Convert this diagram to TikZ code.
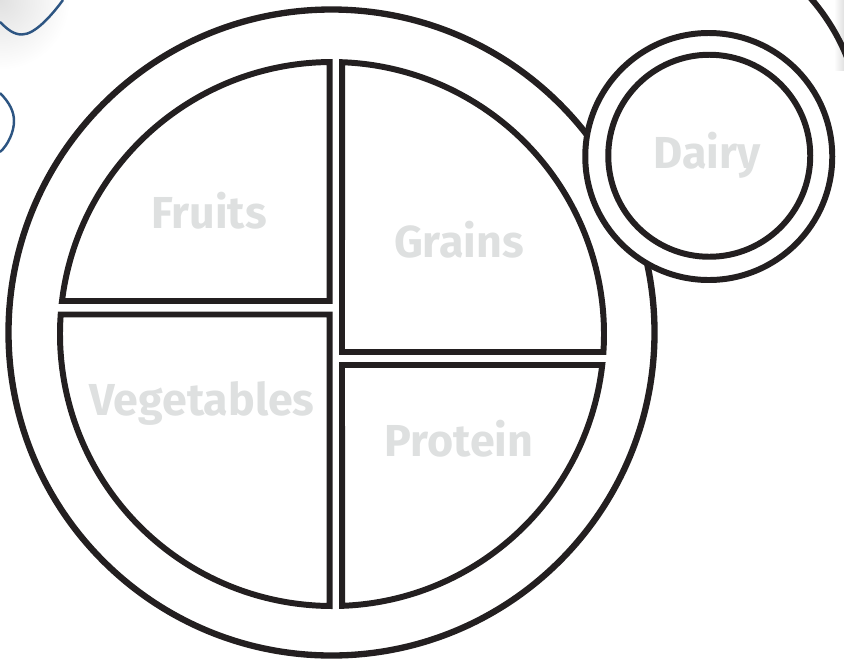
\documentclass[tikz,border=0pt]{standalone}
\usepackage{fontspec}
\setmainfont{Fira Sans}
\usepackage{tikz}
\usetikzlibrary{positioning}
\definecolor{plateline}{RGB}{35,31,32}
\definecolor{labelgray}{RGB}{222,224,224}
\definecolor{tableblue}{RGB}{45,85,130}

\begin{document}
\begin{tikzpicture}[x=0.02cm,y=-0.02cm,line width=3.4pt,
	food/.style={font=\fontsize{25.5}{30}\selectfont\bfseries,text=labelgray,anchor=base,inner sep=0pt}]
			\useasboundingbox (0,0) rectangle (844,660);
			\clip (0,0) rectangle (844,660);
			% soft shadows in the corners
			\shade[inner color=black!12,outer color=white] (0,0) circle[radius=70];
			\shade[left color=white,right color=black!12] (834,0) rectangle (844,70);
			% table pattern, top left
			\draw[tableblue,line width=1.4pt] (0,22) .. controls (8,30) and (14,34.5) .. (22,34.5) .. controls (35,34.5) and (52,15) .. (63,0);
			\draw[tableblue,line width=1.4pt] (0,93) .. controls (10,103) and (14,112) .. (14,121) .. controls (14,132) and (8,145) .. (0,152);
			% edge of the next plate, top right
			\draw[plateline] (654,135) ++(-44:208) arc[start angle=-44,end angle=-12,radius=208];
			% plate rim
			\draw[plateline,line width=3.6pt] (331.5,332.5) circle[radius=323];
			% four sections of the plate
			\draw[plateline] (62.01,301) arc[start angle=186.97,end angle=269.52,radius=272] -- (329.7,301) -- cycle;
			\draw[plateline] (60.70,314.5) arc[start angle=184.11,end angle=90.485,radius=272] -- (329.7,314.5) -- cycle;
			\draw[plateline] (603.40,352) arc[start angle=3.79,end angle=-87.89,radius=272] -- (342,352) -- cycle;
			\draw[plateline] (602.23,365) arc[start angle=6.54,end angle=87.89,radius=272] -- (342,365) -- cycle;
			% dairy cup
			\draw[plateline,fill=white] (708.75,156.5) circle[radius=123.5];
			\draw[plateline] (709.25,155.75) circle[radius=101];
			% labels
			\node[food] (fruits) at (209,228) {Fruits};
			\node[food] (grains) at (459,257) {Grains};
			\node[food] (vegetables) at (202,415) {Vegetables};
			\node[food] (protein) at (459,456) {Protein};
			\node[food] (dairy) at (707,168) {Dairy};
		\end{tikzpicture}
\end{document}
